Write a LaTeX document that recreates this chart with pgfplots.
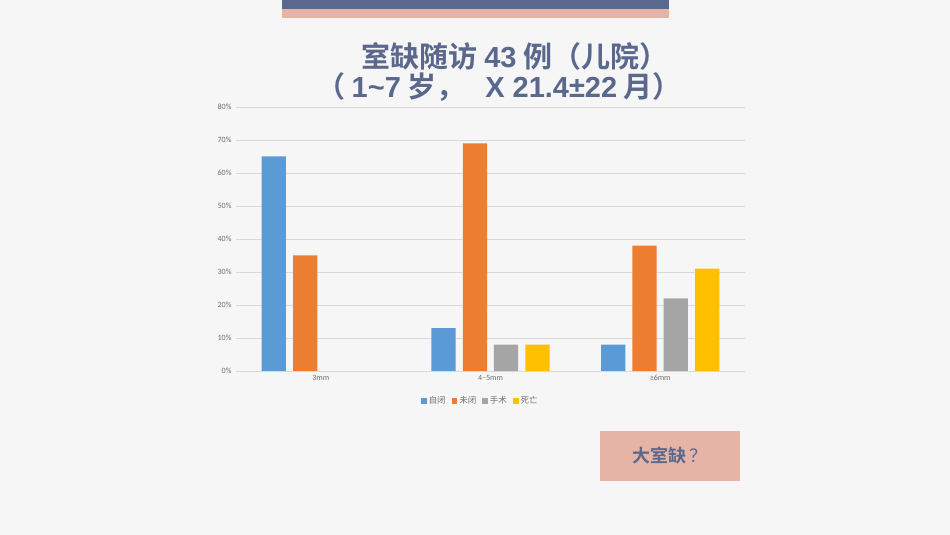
\documentclass[border=0pt]{standalone}
\usepackage{fontspec}
\usepackage{pgfplots}
\pgfplotsset{compat=1.18}
\setmainfont{Carlito}
\newfontfamily\cjk[BoldFont={Noto Sans CJK SC Bold}]{Noto Sans CJK SC}
\newfontfamily\lat{Liberation Sans}

\definecolor{slate}{RGB}{89,104,140}
\definecolor{rose}{RGB}{230,180,166}
\definecolor{bg}{RGB}{246,246,246}
\definecolor{cblue}{RGB}{91,155,213}
\definecolor{corange}{RGB}{237,125,49}
\definecolor{cgray}{RGB}{165,165,165}
\definecolor{cyellow}{RGB}{255,192,0}
\definecolor{ticktext}{RGB}{110,110,110}
\definecolor{gridc}{RGB}{217,217,217}

\begin{document}
\begin{tikzpicture}[x=1bp,y=1bp]
% slide background and top bars
\fill[bg] (0,0) rectangle (950,535);
\fill[slate] (282,526) rectangle (669,535);
\fill[rose] (282,517) rectangle (669,526);

% title
\node[text=slate, font=\cjk\bfseries\fontsize{29bp}{34bp}\selectfont] at (515,479)
  {室缺随访 {\lat\bfseries 43} 例（儿院）};
\node[text=slate, font=\cjk\bfseries\fontsize{29bp}{34bp}\selectfont] at (499,448)
  {（\ {\lat\bfseries 1\textasciitilde7} 岁，\ \ \ {\lat\bfseries X 21.4±22} 月）};

\begin{axis}[
    at={(236bp,164bp)}, anchor=south west,
    scale only axis,
    width=509bp, height=264bp,
    ymin=0, ymax=80,
    xmin=-0.5, xmax=2.5,
    ytick={0,10,...,80},
    /pgf/number format/assume math mode=true,
    yticklabel={\pgfmathprintnumber{\tick}\%},
    xtick=data,
    xticklabels={3mm, 4–5mm, ≥6mm},
    axis x line*=bottom,
    axis y line*=left,
    x axis line style={gridc, line width=0.8bp, -},
    y axis line style={draw=none},
    ymajorgrids,
    grid style={gridc, line width=0.6bp},
    major tick length=0pt,
    tick label style={text=ticktext, font=\fontsize{8bp}{9bp}\selectfont},
    yticklabel style={anchor=east, xshift=-1bp},
    xticklabel style={yshift=-1bp},
    bar width=0.143,
    ybar,
    legend columns=4,
    legend style={at={(0.48,-0.114)}, anchor=center, draw=none, fill=none,
        font=\cjk\fontsize{8.5bp}{10bp}\selectfont, text=ticktext,
        /tikz/every even column/.append style={column sep=4bp}},
    legend image code/.code={\fill[#1] (0bp,-2.8bp) rectangle (5.6bp,2.8bp);},
]
\addplot[fill=cblue, draw=none, bar shift=-0.277] coordinates {(0,65) (1,13) (2,8)};
\addplot[fill=corange, draw=none, bar shift=-0.092] coordinates {(0,35) (1,69) (2,38)};
\addplot[fill=cgray, draw=none, bar shift=0.092] coordinates {(1,8) (2,22)};
\addplot[fill=cyellow, draw=none, bar shift=0.277] coordinates {(1,8) (2,31)};
\legend{自闭, 未闭, 手术, 死亡}
\end{axis}

% callout box
\fill[rose] (600,54) rectangle (740,104);
\node[text=slate, font=\cjk\fontsize{18bp}{20bp}\selectfont] at (670,79) {\textbf{大室缺}\,？};
\end{tikzpicture}
\end{document}
